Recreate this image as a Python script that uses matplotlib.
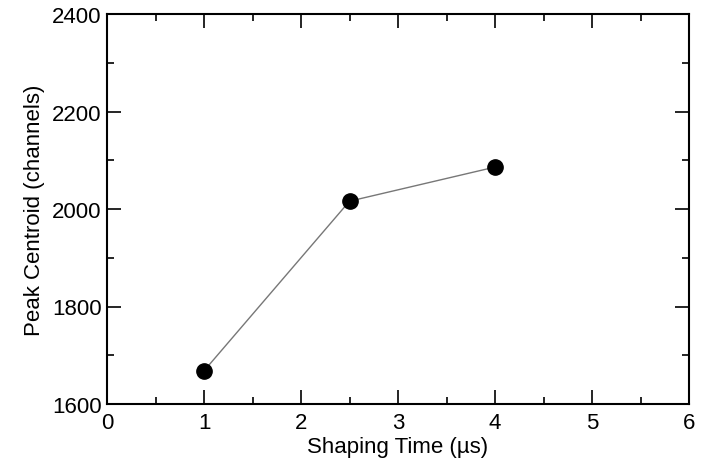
import matplotlib
matplotlib.use("Agg")
import matplotlib.pyplot as plt
from matplotlib.ticker import MultipleLocator

plt.rcParams['font.family'] = ['Liberation Sans', 'DejaVu Sans']

# shaping time (us) vs. peak centroid (channels)
shaping_time = [1.0, 2.5, 4.0]
peak_centroid = [1668, 2016, 2086]

fig = plt.figure(figsize=(7.03, 4.6), dpi=100)
ax = fig.add_axes([107 / 703, 1 - 405 / 460, 582 / 703, 390 / 460])

ax.plot(shaping_time, peak_centroid, color='#777777', linewidth=1.0,
        marker='o', markersize=11, markerfacecolor='black',
        markeredgecolor='black', zorder=3)

ax.set_xlim(0, 6)
ax.set_ylim(1600, 2400)
ax.xaxis.set_major_locator(MultipleLocator(1))
ax.xaxis.set_minor_locator(MultipleLocator(0.5))
ax.yaxis.set_major_locator(MultipleLocator(200))
ax.yaxis.set_minor_locator(MultipleLocator(100))

ax.tick_params(which='both', direction='in', top=True, right=True,
               width=1.2, labelsize=16, colors='black')
ax.tick_params(axis='x', which='major', pad=6)
ax.tick_params(axis='y', which='major', pad=4)
ax.tick_params(which='major', length=10)
ax.tick_params(which='minor', length=5)
for s in ax.spines.values():
    s.set_linewidth(1.5)

ax.set_xlabel('Shaping Time (\u00b5s)', fontsize=16, labelpad=2)
ax.set_ylabel('Peak Centroid (channels)', fontsize=16, labelpad=5)

fig.savefig('out.png', dpi=100)
